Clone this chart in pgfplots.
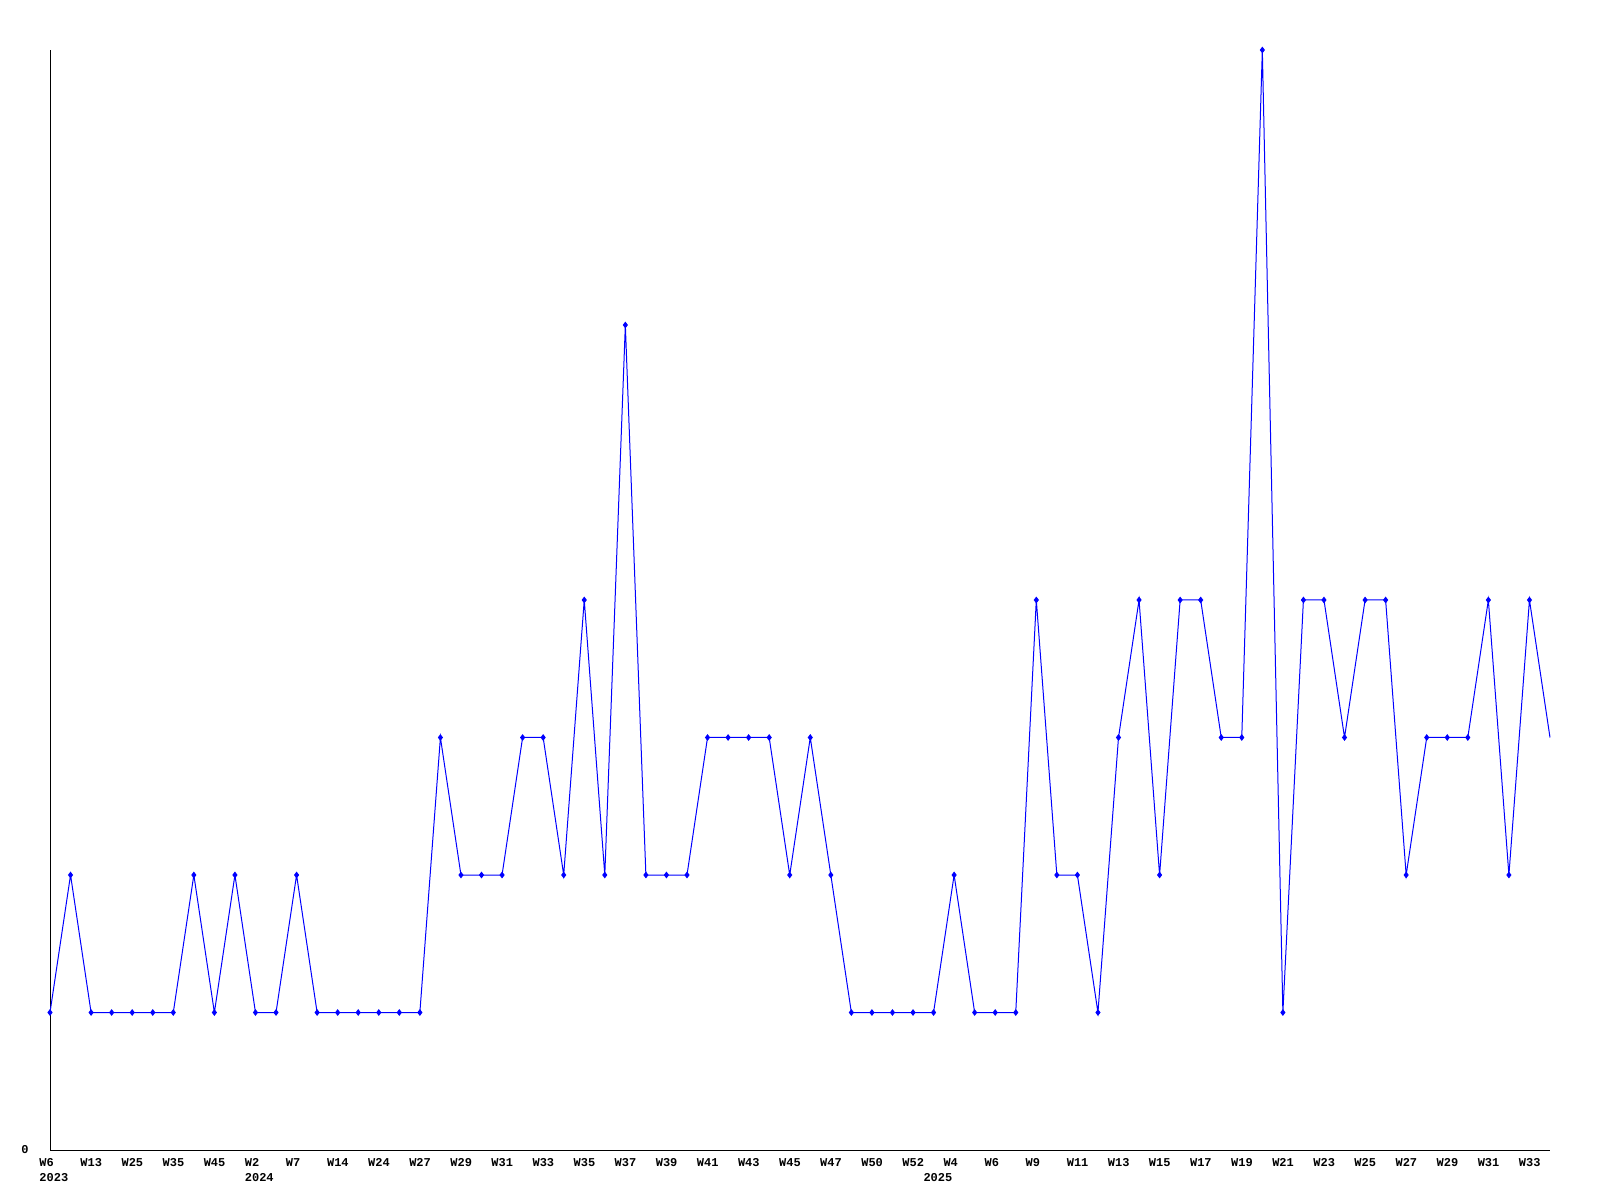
\documentclass[border=0pt]{standalone}
\usepackage{fontspec}
\setmainfont{Liberation Mono}
\usepackage{pgfplots}
\pgfplotsset{compat=1.18}
\begin{document}
\begin{tikzpicture}
\path[use as bounding box] (0,0) rectangle (800pt,600pt);
\begin{axis}[at={(25pt,25pt)}, anchor=south west, scale only axis,
  width=750pt, height=550pt,
  xmin=0, xmax=73, ymin=0, ymax=8,
  axis x line=bottom, axis y line=left,
  axis line style={-, line width=0.5pt, black},
  xtick={0,2,...,72},
  xticklabels={W6,W13,W25,W35,W45,W2,W7,W14,W24,W27,W29,W31,W33,W35,W37,W39,W41,W43,W45,W47,W50,W52,W4,W6,W9,W11,W13,W15,W17,W19,W21,W23,W25,W27,W29,W31,W33},
  ytick={0}, yticklabels={0},
  major tick length=0pt,
  tick label style={font=\fontsize{6}{7}\selectfont\bfseries},
  xticklabel style={anchor=north west, inner sep=0pt, xshift=-5.5pt, yshift=-4pt},
  yticklabel style={anchor=east, inner sep=0pt, xshift=-10.5pt},
  clip=false,
]
\addplot[blue, line width=0.5pt, mark=diamond*, mark size=1.3pt, mark options={fill=blue, draw=blue}, mark indices={1,...,73}] coordinates {
(0,1)(1,2)(2,1)(3,1)(4,1)(5,1)(6,1)(7,2)(8,1)(9,2)
(10,1)(11,1)(12,2)(13,1)(14,1)(15,1)(16,1)(17,1)(18,1)(19,3)
(20,2)(21,2)(22,2)(23,3)(24,3)(25,2)(26,4)(27,2)(28,6)(29,2)
(30,2)(31,2)(32,3)(33,3)(34,3)(35,3)(36,2)(37,3)(38,2)(39,1)
(40,1)(41,1)(42,1)(43,1)(44,2)(45,1)(46,1)(47,1)(48,4)(49,2)
(50,2)(51,1)(52,3)(53,4)(54,2)(55,4)(56,4)(57,3)(58,3)(59,8)
(60,1)(61,4)(62,4)(63,3)(64,4)(65,4)(66,2)(67,3)(68,3)(69,3)
(70,4)(71,2)(72,4)(73,3)
};
\node[anchor=north west, inner sep=0pt, font=\fontsize{6}{7}\selectfont\bfseries] at (axis cs:0,0) [xshift=-5.5pt, yshift=-11.5pt] {2023};
\node[anchor=north west, inner sep=0pt, font=\fontsize{6}{7}\selectfont\bfseries] at (axis cs:10,0) [xshift=-5.5pt, yshift=-11.5pt] {2024};
\node[anchor=north west, inner sep=0pt, font=\fontsize{6}{7}\selectfont\bfseries] at (axis cs:44,0) [xshift=-15.5pt, yshift=-11.5pt] {2025};
\end{axis}
\end{tikzpicture}
\end{document}
